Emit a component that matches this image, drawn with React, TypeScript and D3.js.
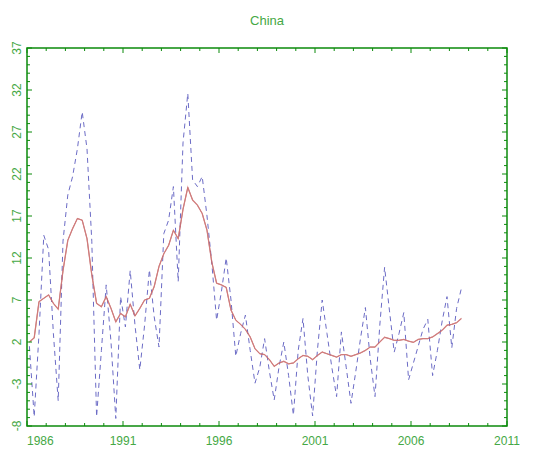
import { useEffect, useRef } from 'react';
import * as d3 from 'd3';

// quarterly observations, first one in 1986 Q1
const firstYear = 1986;
const quarterOffset = 0.125;

const quarterlyRate = [
  1.5, -6.9, 3, 14.7, 13, 3, -5, 14, 19.5, 21.7,
  25, 29.4, 25, 14, -6.9, 1, 8.8, 2, -7.1, 7.4,
  3.8, 10.5, 4, -1.3, 4, 10.6, 5, 1.4, 14.9, 16.5,
  20.5, 9.2, 25.7, 31.6, 21.3, 20.5, 21.7, 17, 11.4, 4.6,
  8, 12, 7, 0.3, 3, 5.2, 1, -2.9, -1, 2.4,
  -1.5, -4.9, -1, 2.0, -2, -6.7, 1, 4.8, -2, -6.8,
  1, 7.0, 3, -1, -4.5, 3.2, -1, -5.3, -1.5, 2.5,
  6.1, 0, -4.5, 4, 10.9, 5.8, 0.8, 3, 5.5, -2.5,
  -0.5, 1.5, 3.5, 4.7, -2.0, 1, 4.5, 7.4, 1.3, 6,
  8.4,
];

const annualRate = [
  2.0, 2.5, 6.8, 7.2, 7.6, 6.6, 5.9, 10.5, 14.1, 15.5,
  16.7, 16.5, 14.3, 10.0, 6.6, 6.2, 7.4, 6.0, 4.4, 5.4,
  5.0, 6.5, 5.1, 6.0, 7.0, 7.2, 8.6, 11.0, 12.5, 13.5,
  15.3, 14.3, 17.8, 20.4, 18.9, 18.3, 17.3, 15.3, 11.5, 9.0,
  8.8, 8.5, 5.8, 4.6, 4.1, 3.5, 2.6, 1.2, 0.6, 0.5,
  -0.1, -0.9, -0.5, -0.3, -0.6, -0.5, 0.0, 0.4, 0.3, -0.1,
  0.4, 0.8, 0.6, 0.4, 0.2, 0.5, 0.5, 0.3, 0.5, 0.7,
  1.0, 1.4, 1.4, 2.0, 2.56, 2.4, 2.2, 2.2, 2.3, 2.1,
  1.96, 2.3, 2.4, 2.4, 2.6, 3.0, 3.4, 4.0, 4.1, 4.3,
  4.8,
];

const xTickYears = [1986, 1991, 1996, 2001, 2006, 2011];
const yTickValues = [-8, -3, 2, 7, 12, 17, 22, 27, 32, 37];

const axisColor = '#0b8a0b';
const labelColor = '#45a845';

const ChinaChart = ({ width = 543, height = 453 }) => {
  const svgRef = useRef(null);

  useEffect(() => {
    const svg = d3.select(svgRef.current);
    svg.selectAll('*').remove();

    const margin = { top: 48, right: 36, bottom: 27, left: 27 };
    const innerW = width - margin.left - margin.right;
    const innerH = height - margin.top - margin.bottom;

    const x = d3.scaleLinear().domain([1986, 2011]).range([0, innerW]);
    const y = d3.scaleLinear().domain([-8, 37]).range([innerH, 0]);

    const dateOf = (i) => firstYear + quarterOffset + i * 0.25;

    const g = svg.append('g')
      .attr('transform', `translate(${margin.left},${margin.top})`);

    // title
    svg.append('text')
      .attr('x', margin.left + innerW / 2)
      .attr('y', 25)
      .attr('text-anchor', 'middle')
      .style('font-family', '"Liberation Sans", Arial, sans-serif')
      .style('font-size', '13px')
      .style('fill', labelColor)
      .text('China');

    // series
    const line = d3.line()
      .x((d, i) => x(dateOf(i)))
      .y(d => y(d));

    g.append('path')
      .datum(quarterlyRate)
      .attr('d', line)
      .attr('fill', 'none')
      .attr('stroke', '#6c6cc6')
      .attr('stroke-width', 1)
      .attr('stroke-dasharray', '5,4');

    g.append('path')
      .datum(annualRate)
      .attr('d', line)
      .attr('fill', 'none')
      .attr('stroke', '#7a0000')
      .attr('stroke-width', 0.6);

    g.append('path')
      .datum(annualRate)
      .attr('d', line)
      .attr('fill', 'none')
      .attr('stroke', 'rgba(215,125,125,0.8)')
      .attr('stroke-width', 1.3);

    // ticks, every unit / every year, longer at labelled ones
    const years = d3.range(1986, 2012);
    const units = d3.range(-8, 38);
    const tickLen = (major) => (major ? 5 : 3);

    const ticks = g.append('g').attr('stroke', axisColor).attr('stroke-width', 1);
    years.forEach(yr => {
      const major = (yr - 1986) % 5 === 0;
      const xp = x(yr);
      ticks.append('line').attr('x1', xp).attr('x2', xp)
        .attr('y1', innerH).attr('y2', innerH - tickLen(major));
      ticks.append('line').attr('x1', xp).attr('x2', xp)
        .attr('y1', 0).attr('y2', tickLen(major));
    });
    units.forEach(u => {
      const major = (u + 8) % 5 === 0;
      const yp = y(u);
      ticks.append('line').attr('x1', 0).attr('x2', tickLen(major))
        .attr('y1', yp).attr('y2', yp);
      ticks.append('line').attr('x1', innerW).attr('x2', innerW - tickLen(major))
        .attr('y1', yp).attr('y2', yp);
    });

    // frame
    g.append('rect')
      .attr('x', 0).attr('y', 0)
      .attr('width', innerW).attr('height', innerH)
      .attr('fill', 'none')
      .attr('stroke', axisColor)
      .attr('stroke-width', 1.5);

    // x labels
    g.selectAll('.xlab')
      .data(xTickYears)
      .enter()
      .append('text')
      .attr('class', 'xlab')
      .attr('x', d => x(d))
      .attr('y', innerH + 19)
      .attr('text-anchor', (d, i) => (i === 0 ? 'start' : 'middle'))
      .style('font-family', '"Liberation Sans", Arial, sans-serif')
      .style('font-size', '12px')
      .style('fill', labelColor)
      .text(d => d);

    // y labels, rotated
    g.selectAll('.ylab')
      .data(yTickValues)
      .enter()
      .append('text')
      .attr('class', 'ylab')
      .attr('transform', d => `translate(-6,${y(d)}) rotate(-90)`)
      .attr('text-anchor', 'middle')
      .style('font-family', '"Liberation Sans", Arial, sans-serif')
      .style('font-size', '12px')
      .style('fill', labelColor)
      .text(d => d);
  }, [width, height]);

  return (
    <svg
      ref={svgRef}
      width={width}
      height={height}
      style={{ position: 'absolute', left: 0, top: 0, background: '#fff' }}
    />
  );
};

export default function App() {
  return <ChinaChart />;
}
